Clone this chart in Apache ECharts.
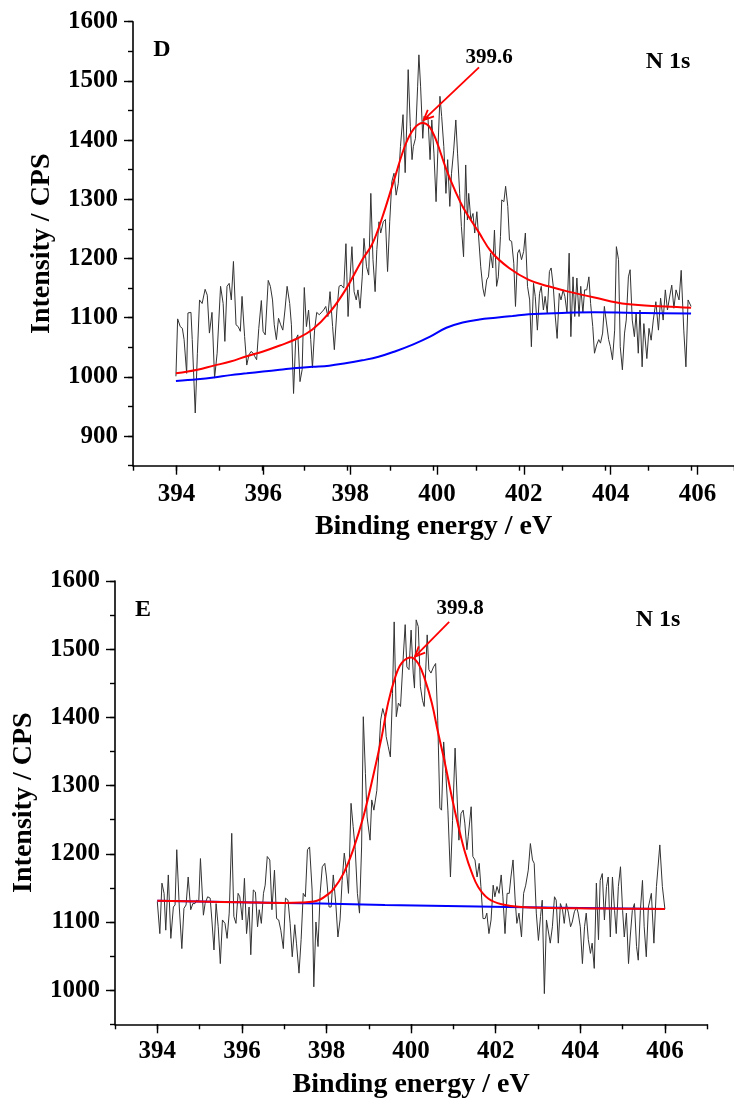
<!DOCTYPE html>
<html><head><meta charset="utf-8">
<script src="https://cdn.jsdelivr.net/npm/echarts/dist/echarts.min.js"></script>
<style>html,body{margin:0;padding:0;background:#fff}#c{width:734px;height:1102px}</style>
</head><body><div id="c"></div>
<script>
// ---------- DATA ----------
const energyTicks = [394, 396, 398, 400, 402, 404, 406];

// Panel D : raw scan [binding energy eV, counts]
const dScan = [
[394.00,1001],[394.04,1098],[394.10,1085],[394.15,1082],[394.19,1063],[394.25,1006],[394.28,1108],[394.35,1109],[394.38,1063],[394.45,939],
[394.50,1040],[394.55,1130],[394.61,1124],[394.68,1148],[394.73,1138],[394.78,1074],[394.84,1109],[394.90,998],[394.96,1040],[395.04,1153],
[395.10,1124],[395.14,1060],[395.19,1153],[395.24,1158],[395.29,1130],[395.34,1195],[395.40,1088],[395.45,1085],[395.50,1077],[395.54,1136],
[395.60,1068],[395.65,1020],[395.70,1037],[395.75,1043],[395.80,1040],[395.84,1034],[395.88,1029],[395.93,1082],[395.99,1129],[396.03,1077],
[396.08,1071],[396.15,1163],[396.20,1153],[396.25,1130],[396.29,1088],[396.34,1063],[396.39,1099],[396.44,1088],[396.49,1079],[396.54,1113],
[396.59,1153],[396.65,1124],[396.69,1088],[396.74,972],[396.79,1063],[396.84,1071],[396.89,992],[396.94,1012],[396.99,1151],[397.04,1085],
[397.09,1113],[397.14,1063],[397.18,1015],[397.23,1079],[397.28,1109],[397.34,1105],[397.38,1102],[397.44,1113],[397.49,1119],[397.54,1102],
[397.59,1144],[397.65,1085],[397.69,1046],[397.75,1113],[397.80,1153],[397.85,1155],[397.91,1150],[397.96,1225],[398.01,1102],[398.05,1161],
[398.10,1220],[398.15,1144],[398.20,1130],[398.24,1147],[398.29,1116],[398.34,1169],[398.38,1234],[398.44,1186],[398.49,1172],[398.54,1310],
[398.59,1198],[398.64,1144],[398.68,1215],[398.73,1262],[398.77,1243],[398.83,1262],[398.88,1266],[398.93,1178],[398.98,1262],[399.03,1330],
[399.08,1344],[399.13,1307],[399.18,1327],[399.23,1389],[399.29,1443],[399.34,1345],[399.38,1434],[399.41,1519],[399.46,1423],[399.50,1367],
[399.53,1389],[399.58,1403],[399.63,1490],[399.66,1544],[399.70,1490],[399.75,1403],[399.78,1440],[399.83,1434],[399.87,1440],[399.92,1367],
[399.96,1434],[400.01,1378],[400.06,1296],[400.10,1378],[400.15,1474],[400.19,1440],[400.24,1389],[400.29,1310],[400.33,1367],[400.38,1288],
[400.42,1344],[400.47,1383],[400.52,1434],[400.56,1378],[400.61,1310],[400.65,1254],[400.70,1203],[400.75,1358],[400.79,1265],[400.82,1310],
[400.87,1265],[400.92,1276],[400.96,1243],[401.01,1279],[401.05,1279],[401.10,1186],[401.15,1150],[401.19,1136],[401.24,1164],[401.28,1169],
[401.33,1209],[401.38,1184],[401.42,1248],[401.47,1153],[401.51,1169],[401.56,1237],[401.59,1299],[401.64,1296],[401.68,1322],[401.73,1288],
[401.77,1231],[401.82,1229],[401.87,1192],[401.91,1119],[401.96,1209],[402.00,1215],[402.05,1198],[402.10,1212],[402.14,1243],[402.19,1153],
[402.24,1130],[402.28,1051],[402.33,1158],[402.37,1136],[402.42,1079],[402.47,1141],[402.51,1153],[402.56,1113],[402.60,1136],[402.65,1108],
[402.70,1178],[402.74,1184],[402.79,1153],[402.83,1108],[402.88,1065],[402.93,1141],[402.97,1130],[403.02,1147],[403.06,1136],[403.11,1108],
[403.16,1209],[403.20,1068],[403.25,1169],[403.29,1102],[403.34,1167],[403.39,1102],[403.43,1153],[403.48,1108],[403.52,1147],[403.57,1147],
[403.62,1169],[403.66,1124],[403.71,1085],[403.75,1040],[403.80,1054],[403.85,1063],[403.89,1057],[403.94,1074],[403.98,1119],[404.03,1091],
[404.08,1063],[404.12,1051],[404.17,1029],[404.22,1079],[404.26,1220],[404.31,1198],[404.35,1051],[404.40,1012],[404.45,1074],[404.49,1096],
[404.54,1169],[404.58,1181],[404.63,1096],[404.68,1068],[404.72,1108],[404.77,1040],[404.81,1113],[404.86,1017],[404.90,1090],[404.97,1031],
[405.02,1082],[405.07,1062],[405.12,1096],[405.18,1127],[405.24,1079],[405.29,1133],[405.35,1096],[405.40,1147],[405.45,1113],[405.50,1135],
[405.55,1155],[405.60,1116],[405.65,1147],[405.72,1130],[405.77,1180],[405.83,1079],[405.88,1017],[405.93,1130],[406.00,1119]
];
// Panel D : fitted envelope (red) and background (blue)
const dFit = [
[394.0,1006],[394.5,1012],[394.88,1019],[395.27,1026],[395.65,1035],[396.03,1043],[396.42,1053],[396.8,1064],[397.18,1080],
[397.57,1108],[397.95,1147],[398.34,1198],[398.57,1224],[398.8,1268],[399.1,1337],[399.35,1393],[399.55,1420],[399.75,1429],
[399.9,1423],[400.05,1402],[400.3,1350],[400.5,1315],[400.7,1285],[401.05,1245],[401.35,1211],[401.76,1184],[402.22,1164],
[402.68,1153],[403.14,1144],[403.75,1134],[404.5,1123],[405.4,1119],[406.0,1117]
];
const dBackground = [
[394.0,993],[394.5,996],[394.88,999],[395.27,1003],[395.65,1006],[396.03,1009],[396.42,1012],[396.8,1015],[397.18,1017],
[397.57,1019],[397.95,1023],[398.34,1028],[398.72,1034],[399.1,1043],[399.53,1055],[399.92,1068],[400.3,1083],[400.68,1092],
[401.07,1097],[401.45,1100],[401.84,1103],[402.22,1106],[402.99,1108],[403.75,1109],[404.91,1108],[406.0,1107]
];

// Panel E : raw scan
const eScan = [
[394.00,1130],[394.06,1083],[394.11,1157],[394.16,1142],[394.20,1088],[394.26,1169],[394.32,1076],[394.38,1122],[394.42,1125],[394.46,1206],
[394.52,1122],[394.58,1061],[394.63,1120],[394.68,1125],[394.73,1166],[394.79,1118],[394.84,1127],[394.89,1127],[394.93,1132],[394.98,1130],
[395.02,1193],[395.09,1110],[395.13,1127],[395.19,1137],[395.25,1135],[395.29,1103],[395.34,1059],[395.39,1127],[395.44,1093],[395.49,1039],
[395.54,1103],[395.60,1098],[395.65,1076],[395.70,1113],[395.76,1230],[395.81,1108],[395.86,1098],[395.91,1142],[395.95,1137],[396.01,1103],
[396.06,1164],[396.11,1083],[396.17,1122],[396.21,1052],[396.27,1147],[396.32,1144],[396.37,1093],[396.41,1118],[396.46,1098],[396.51,1142],
[396.55,1154],[396.60,1196],[396.66,1191],[396.71,1118],[396.77,1176],[396.82,1105],[396.87,1103],[396.92,1088],[396.98,1061],[397.03,1135],
[397.09,1132],[397.14,1098],[397.19,1049],[397.25,1096],[397.29,1069],[397.35,1025],[397.40,1074],[397.45,1142],[397.50,1137],[397.55,1206],
[397.60,1210],[397.66,1147],[397.70,1005],[397.75,1100],[397.80,1064],[397.85,1142],[397.90,1181],[397.96,1186],[398.00,1166],[398.06,1122],
[398.11,1122],[398.16,1169],[398.22,1127],[398.27,1078],[398.32,1103],[398.37,1161],[398.42,1201],[398.48,1171],[398.52,1142],[398.58,1274],
[398.63,1240],[398.68,1206],[398.73,1142],[398.78,1113],[398.83,1210],[398.87,1401],[398.92,1318],[398.96,1254],[399.03,1220],[399.07,1279],
[399.12,1264],[399.19,1293],[399.23,1293],[399.28,1396],[399.33,1413],[399.38,1401],[399.41,1372],[399.46,1357],[399.51,1342],[399.56,1435],
[399.60,1540],[399.65,1401],[399.70,1421],[399.75,1416],[399.81,1484],[399.86,1536],[399.90,1474],[399.95,1470],[400.00,1528],[400.05,1465],
[400.08,1443],[400.12,1543],[400.17,1533],[400.22,1445],[400.27,1425],[400.31,1416],[400.38,1521],[400.42,1470],[400.47,1465],[400.53,1474],
[400.58,1479],[400.63,1396],[400.68,1267],[400.72,1264],[400.77,1364],[400.82,1318],[400.87,1264],[400.93,1166],[400.98,1249],[401.04,1355],
[401.09,1279],[401.13,1220],[401.18,1259],[401.23,1264],[401.27,1245],[401.32,1206],[401.35,1225],[401.42,1269],[401.46,1196],[401.51,1191],
[401.56,1166],[401.61,1186],[401.65,1152],[401.70,1105],[401.75,1105],[401.79,1113],[401.84,1083],[401.89,1103],[401.94,1154],[401.98,1137],
[402.03,1152],[402.08,1142],[402.13,1169],[402.17,1137],[402.22,1083],[402.27,1142],[402.32,1142],[402.36,1166],[402.41,1191],[402.46,1132],
[402.50,1098],[402.55,1113],[402.61,1078],[402.66,1142],[402.71,1154],[402.77,1176],[402.82,1215],[402.87,1191],[402.91,1186],[402.96,1113],
[403.01,1073],[403.06,1108],[403.10,1132],[403.15,995],[403.20,1103],[403.24,1103],[403.29,1069],[403.34,1093],[403.39,1137],[403.43,1132],
[403.48,1069],[403.53,1127],[403.58,1118],[403.62,1098],[403.67,1127],[403.72,1113],[403.77,1093],[403.81,1100],[403.86,1115],[403.91,1122],
[403.95,1113],[404.00,1093],[404.05,1039],[404.10,1093],[404.14,1113],[404.19,1074],[404.24,1054],[404.28,1069],[404.33,1032],[404.38,1157],
[404.43,1074],[404.47,1161],[404.52,1171],[404.57,1103],[404.62,1152],[404.66,1166],[404.71,1078],[404.76,1166],[404.81,1117],[404.85,1083],
[404.90,1152],[404.95,1181],[405.00,1117],[405.04,1078],[405.09,1113],[405.14,1039],[405.18,1078],[405.23,1117],[405.28,1127],[405.33,1064],
[405.37,1044],[405.42,1117],[405.47,1161],[405.51,1093],[405.56,1049],[405.61,1122],[405.68,1142],[405.74,1069],[405.80,1152],[405.88,1213],
[405.94,1152],[406.00,1119]
];
const eFit = [
[394.0,1131],[395.0,1130],[396.0,1129],[397.0,1128],[397.4,1128.5],[397.7,1130],[397.85,1133],[398.0,1139],[398.16,1148],
[398.4,1171],[398.63,1206],[398.87,1254],[399.11,1316],[399.3,1370],[399.46,1422],[399.62,1458],[399.78,1480],[400.0,1488],
[400.17,1479],[400.33,1455],[400.49,1421],[400.64,1377],[400.8,1333],[400.96,1284],[401.12,1240],[401.27,1203],[401.43,1173],
[401.59,1151],[401.83,1134],[402.14,1126],[402.6,1122],[403.9,1120],[405.0,1119.5],[406.0,1119]
];
const eBackground = [[394.0,1131],[397.85,1127],[399.38,1125],[402.3,1122],[406.0,1119]];

// annotation anchors (data coordinates)
const dPeakLabel = '399.6', ePeakLabel = '399.8';
const dArrow = [[401.06,1523],[399.77,1434]];
const eArrow = [[400.90,1540],[400.09,1489]];

// ---------- LAYOUT ----------
const FONT = '"Liberation Serif","Times New Roman",serif';
const X_MIN = 393, X_MAX = 407, Y_MAX = 1600;
const panels = [
  {left:133, top:21.7, ppe:43.43, pp100:59.2, yMin:850, yLab:900, scan:dScan, fit:dFit, bg:dBackground, lblMargin:16, nameGap:47},
  {left:115, top:581, ppe:42.3, pp100:68.2, yMin:950, yLab:1000, scan:eScan, fit:eFit, bg:eBackground, lblMargin:15, nameGap:46}
];

const grid = [], xAxis = [], yAxis = [], series = [];
const axisColor = '#000';
const plain = v => String(Math.round(v));
panels.forEach((p, k) => {
  const hA = (Y_MAX - p.yMin) / 100 * p.pp100;
  const hB = (Y_MAX - p.yLab) / 100 * p.pp100;
  const first = energyTicks[0], last = energyTicks[energyTicks.length - 1];
  grid.push({left:p.left, top:p.top, width:(X_MAX - X_MIN) * p.ppe, height:hA});
  grid.push({left:p.left + (first - X_MIN) * p.ppe, top:p.top, width:(last - first) * p.ppe, height:hB});
  const gA = 2 * k, gB = 2 * k + 1;
  xAxis.push({gridIndex:gA, type:'value', min:X_MIN, max:X_MAX, interval:1,
    axisLine:{show:true, onZero:false, lineStyle:{color:axisColor, width:1.6}},
    axisTick:{show:true, length:5, lineStyle:{color:axisColor, width:1.4}},
    axisLabel:{show:false}, splitLine:{show:false},
    name:'Binding energy / eV', nameLocation:'middle', nameGap:p.nameGap,
    nameTextStyle:{fontFamily:FONT, fontWeight:'bold', fontSize:28, color:'#000'}});
  xAxis.push({gridIndex:gB, type:'value', min:first, max:last, interval:2, offset:hA - hB,
    axisLine:{show:false}, axisTick:{show:true, length:9, lineStyle:{color:axisColor, width:1.4}},
    axisLabel:{fontFamily:FONT, fontWeight:'bold', fontSize:25, color:'#000', margin:p.lblMargin, formatter:plain},
    splitLine:{show:false}});
  yAxis.push({gridIndex:gA, type:'value', min:p.yMin, max:Y_MAX, interval:50,
    axisLine:{show:true, onZero:false, lineStyle:{color:axisColor, width:1.6}},
    axisTick:{show:true, length:5, lineStyle:{color:axisColor, width:1.4}},
    axisLabel:{show:false}, splitLine:{show:false},
    name:'Intensity / CPS', nameLocation:'middle', nameGap:77, nameRotate:90,
    nameTextStyle:{fontFamily:FONT, fontWeight:'bold', fontSize:28, color:'#000'}});
  yAxis.push({gridIndex:gB, type:'value', min:p.yLab, max:Y_MAX, interval:100, offset:(first - X_MIN) * p.ppe,
    axisLine:{show:false}, axisTick:{show:true, length:9, lineStyle:{color:axisColor, width:1.4}},
    axisLabel:{fontFamily:FONT, fontWeight:'bold', fontSize:25, color:'#000', margin:15, formatter:plain},
    splitLine:{show:false}});
  series.push({type:'line', xAxisIndex:gA, yAxisIndex:gA, data:p.scan, showSymbol:false, symbol:'none',
    lineStyle:{color:'#333', width:1}, z:2});
  series.push({type:'line', xAxisIndex:gA, yAxisIndex:gA, data:p.bg, showSymbol:false, symbol:'none', smooth:0.4,
    lineStyle:{color:'#0000ff', width:2}, z:3});
  series.push({type:'line', xAxisIndex:gA, yAxisIndex:gA, data:p.fit, showSymbol:false, symbol:'none', smooth:0.4,
    lineStyle:{color:'#ff0000', width:2}, z:4});
});

const chart = echarts.init(document.getElementById('c'), null, {renderer:'canvas'});
chart.setOption({animation:false, backgroundColor:'#fff', grid, xAxis, yAxis, series});

// ---------- ANNOTATIONS ----------
function txt(s, x, y, size) {
  return {type:'text', x, y, z:10, style:{text:s, fontFamily:FONT, fontWeight:'bold', fontSize:size,
    fill:'#000', align:'center', verticalAlign:'middle', textAlign:'center', textVerticalAlign:'middle'}};
}
function arrow(pair, axisIdx) {
  const a = chart.convertToPixel({xAxisIndex:axisIdx, yAxisIndex:axisIdx}, pair[0]);
  const b = chart.convertToPixel({xAxisIndex:axisIdx, yAxisIndex:axisIdx}, pair[1]);
  const ang = Math.atan2(a[1] - b[1], a[0] - b[0]);
  const L = 11, s = 0.42;
  const h1 = [b[0] + L * Math.cos(ang + s), b[1] + L * Math.sin(ang + s)];
  const h2 = [b[0] + L * Math.cos(ang - s), b[1] + L * Math.sin(ang - s)];
  const st = {stroke:'#ff0000', lineWidth:1.8, fill:null};
  return [
    {type:'line', z:10, shape:{x1:a[0], y1:a[1], x2:b[0], y2:b[1]}, style:st},
    {type:'polyline', z:10, shape:{points:[h1, b, h2]}, style:st}
  ];
}
const graphic = [
  txt('D', 162, 50, 24), txt(dPeakLabel, 489, 58, 21), txt('N 1s', 668, 62, 24),
  txt('E', 143, 610, 24), txt(ePeakLabel, 460, 609, 21), txt('N 1s', 658, 620, 24)
].concat(arrow(dArrow, 0), arrow(eArrow, 2));
chart.setOption({graphic});
</script></body></html>
